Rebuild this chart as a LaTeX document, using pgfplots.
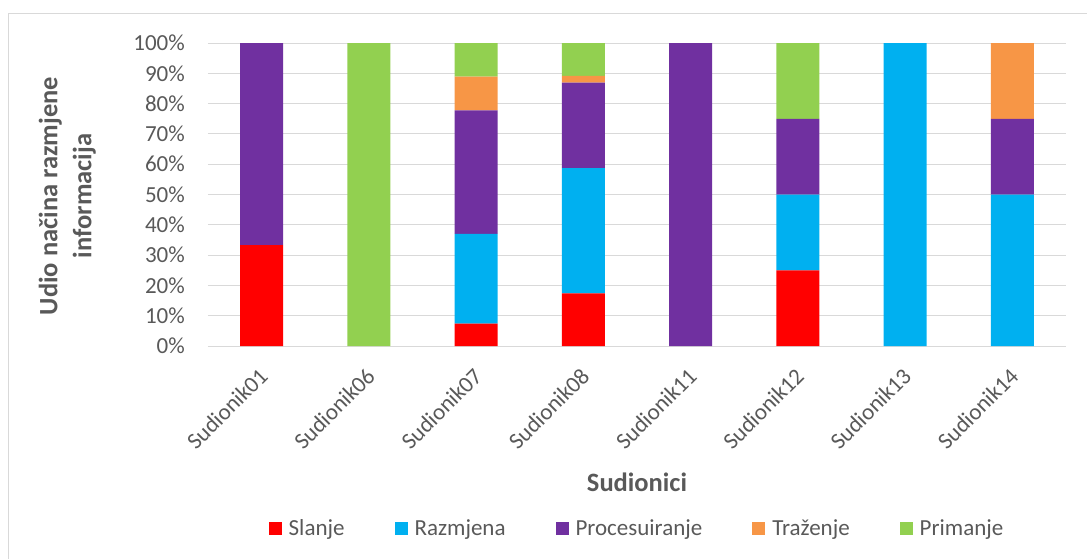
\documentclass[border=0pt]{standalone}
\usepackage{pgfplots}
\pgfplotsset{compat=1.18}
\usepackage{fontspec}
\setmainfont{Carlito}
\definecolor{cS}{HTML}{FF0000}
\definecolor{cR}{HTML}{00B0F0}
\definecolor{cP}{HTML}{7030A0}
\definecolor{cT}{HTML}{F79646}
\definecolor{cM}{HTML}{92D050}
\definecolor{txt}{HTML}{595959}
\definecolor{gridc}{HTML}{D9D9D9}
\begin{document}
\begin{tikzpicture}
\useasboundingbox (-208bp,-213bp) rectangle (879bp,346bp);
\draw[gridc, line width=1bp] (-199bp,-213bp) -- (-199bp,332bp) -- (879bp,332bp);
\begin{axis}[
  at={(0,0)}, anchor=south west,
  scale only axis, width=858bp, height=303bp,
  ybar stacked, bar width=43bp,
  xmin=-0.5, xmax=7.5, ymin=0, ymax=100,
  xtick={0,...,7},
  xticklabels={Sudionik01,Sudionik06,Sudionik07,Sudionik08,Sudionik11,Sudionik12,Sudionik13,Sudionik14},
  ytick={0,10,...,100},
  yticklabel={\pgfmathprintnumber{\tick}\%},
  /pgf/number format/assume math mode=true,
  ymajorgrids, grid style={gridc, line width=1bp},
  axis line style={draw=none},
  tick style={draw=none},
  yticklabel style={font=\fontsize{23bp}{27bp}\selectfont, text=txt, anchor=east, inner sep=0pt, xshift=-23bp},
  xticklabel style={font=\fontsize{23bp}{27bp}\selectfont, text=txt, inner sep=0pt, xshift=2bp, yshift=-26bp, rotate=45, anchor=east},
  xlabel={Sudionici},
  xlabel style={font=\fontsize{26.5bp}{32bp}\selectfont\bfseries, text=txt, at={(rel axis cs:0.5,-0.449)}, anchor=center},
  ylabel={Udio načina razmjene\\informacija},
  ylabel style={font=\fontsize{26.5bp}{34bp}\selectfont\bfseries, text=txt, align=center, at={(rel axis cs:-0.164,0.495)}, anchor=center},
  every axis plot/.append style={draw=none},
  legend columns=5,
  legend style={at={(0.5,-0.601)}, anchor=center, draw=none, fill=none, inner sep=0pt,
    font=\fontsize{23bp}{27bp}\selectfont, text=txt,
    /tikz/every odd column/.append style={column sep=5bp},
    /tikz/every even column/.append style={column sep=48bp}},
  legend image code/.code={\fill[#1] (0bp,-6.5bp) rectangle (13bp,6.5bp);},
]
\addplot[fill=cS] coordinates {(0,33.33) (1,0) (2,7.41) (3,17.39) (4,0) (5,25) (6,0) (7,0)};
\addlegendentry{Slanje}
\addplot[fill=cR] coordinates {(0,0) (1,0) (2,29.63) (3,41.30) (4,0) (5,25) (6,100) (7,50)};
\addlegendentry{Razmjena}
\addplot[fill=cP] coordinates {(0,66.67) (1,0) (2,40.74) (3,28.26) (4,100) (5,25) (6,0) (7,25)};
\addlegendentry{Procesuiranje}
\addplot[fill=cT] coordinates {(0,0) (1,0) (2,11.11) (3,2.17) (4,0) (5,0) (6,0) (7,25)};
\addlegendentry{Traženje}
\addplot[fill=cM] coordinates {(0,0) (1,100) (2,11.11) (3,10.87) (4,0) (5,25) (6,0) (7,0)};
\addlegendentry{Primanje}
\end{axis}
\end{tikzpicture}
\end{document}
